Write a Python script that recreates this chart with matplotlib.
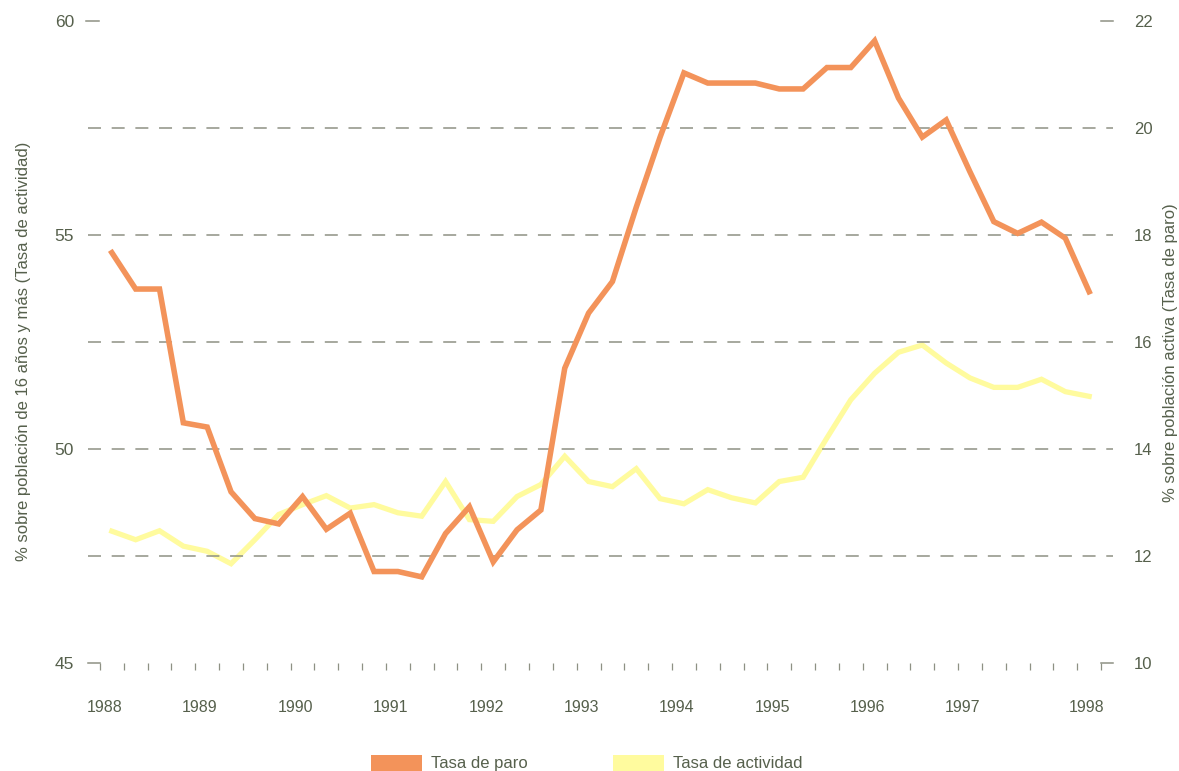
import numpy as np
import matplotlib
matplotlib.use("Agg")
import matplotlib.pyplot as plt
from matplotlib.patches import Patch

plt.rcParams['font.family'] = ['Liberation Sans', 'DejaVu Sans']

# datos trimestrales 1988-1998
tasa_paro = [17.67, 16.99, 16.99, 14.49, 14.41, 13.20, 12.70, 12.60,
             13.11, 12.50, 12.80, 11.71, 11.71, 11.61, 12.42, 12.92,
             11.89, 12.49, 12.86, 15.51, 16.54, 17.13, 18.52, 19.83,
             21.03, 20.84, 20.84, 20.84, 20.73, 20.73, 21.13, 21.13,
             21.63, 20.56, 19.83, 20.15, 19.18, 18.25, 18.03, 18.24,
             17.94, 16.94]
tasa_actividad = [48.08, 47.88, 48.09, 47.73, 47.61, 47.32, 47.88, 48.47,
                  48.70, 48.91, 48.62, 48.70, 48.51, 48.43, 49.24, 48.35,
                  48.31, 48.89, 49.17, 49.83, 49.24, 49.12, 49.54, 48.84,
                  48.72, 49.05, 48.86, 48.74, 49.24, 49.34, 50.26, 51.15,
                  51.77, 52.26, 52.43, 52.01, 51.66, 51.44, 51.44, 51.63,
                  51.34, 51.23]
years = ['1988', '1989', '1990', '1991', '1992', '1993', '1994', '1995',
         '1996', '1997', '1998']

ORANGE = '#F3935A'
YELLOW = '#FFFB9E'
TXT = '#56604c'
GRIDC = '#8e9184'

n = len(tasa_paro)
x = np.arange(n)

fig = plt.figure(figsize=(11.79, 7.71), dpi=100)
ax = fig.add_axes([88 / 1179, 1 - 663 / 771, (1113 - 88) / 1179, (663 - 21) / 771])
ax2 = ax.twinx()

ax.set_xlim(-1.0, 42.0)
ax.set_ylim(45, 60)
ax2.set_ylim(10, 22)

for a in (ax, ax2):
    for s in a.spines.values():
        s.set_visible(False)

# rejilla discontinua (eje de paro)
for v in [12, 14, 16, 18, 20]:
    ax2.axhline(v, color=GRIDC, lw=1.1, ls=(0, (8.5, 7)), zorder=1)

# marcas cortas y esquinas
ax.plot([-1.1, -0.55], [60, 60], color=GRIDC, lw=1.1, clip_on=False)
ax2.plot([41.5, 42.0], [22, 22], color=GRIDC, lw=1.1, clip_on=False)
ax.plot([-1.0, -0.5], [45, 45], color=GRIDC, lw=1.1, clip_on=False)
ax.plot([41.5, 42.0], [45, 45], color=GRIDC, lw=1.1, clip_on=False)

ax.plot(x, tasa_actividad, color=YELLOW, lw=3.8, zorder=3, solid_joinstyle='miter')
ax2.plot(x, tasa_paro, color=ORANGE, lw=4, zorder=4, solid_joinstyle='miter')

ax.set_zorder(2)
ax.patch.set_visible(False)
ax2.set_zorder(3)

# eje x
ax.set_xticks(np.arange(n + 1) - 0.5, minor=True)
ax.tick_params(axis='x', which='minor', direction='out', length=5,
               width=0.9, color=GRIDC)
year_pos = [4 * k - 0.3 for k in range(10)] + [n - 1.1]
ax.set_xticks(year_pos)
ax.set_xticklabels(years)
ax.tick_params(axis='x', which='major', length=0, pad=27,
               labelsize=11.5, labelcolor=TXT)

ax.set_yticks([45, 50, 55, 60])
ax.tick_params(axis='y', length=0, pad=10, labelsize=12.5, labelcolor=TXT)
ax2.set_yticks(np.arange(10, 23, 2))
ax2.tick_params(axis='y', length=0, pad=15, labelsize=12, labelcolor=TXT)

fig.text(24 / 1179, 1 - 351 / 771,
         '% sobre población de 16 años y más (Tasa de actividad)',
         rotation=90, ha='center', va='center', fontsize=12, color=TXT)
fig.text(1170 / 1179, 1 - 353 / 771,
         '% sobre población activa (Tasa de paro)',
         rotation=90, ha='center', va='center', fontsize=12, color=TXT)

handles = [Patch(facecolor=ORANGE, edgecolor='none', label='Tasa de paro'),
           Patch(facecolor=YELLOW, edgecolor='none', label='Tasa de actividad')]
leg = fig.legend(handles=handles, ncol=2, loc='center left',
                 bbox_to_anchor=(371 / 1179, 1 - 763 / 771),
                 frameon=False, fontsize=12, borderpad=0, borderaxespad=0,
                 handlelength=3.05, handleheight=1.1, handletextpad=0.55,
                 columnspacing=5.1)
for t in leg.get_texts():
    t.set_color(TXT)

fig.savefig('out.png', dpi=100)
